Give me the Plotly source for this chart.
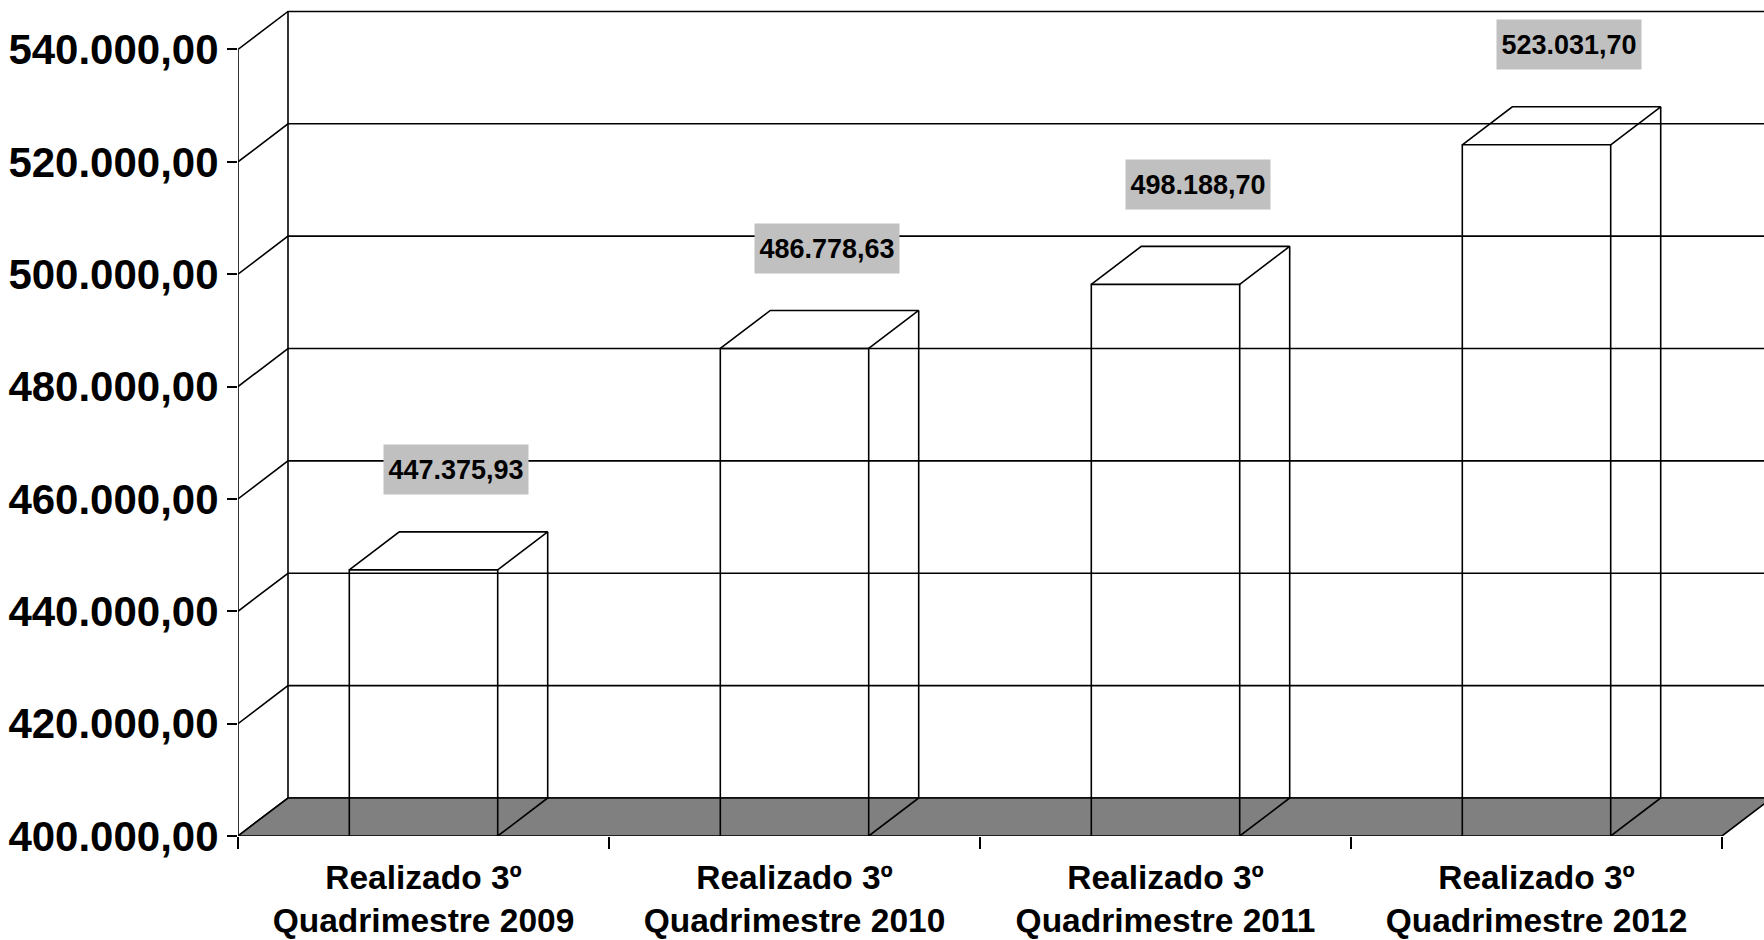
import plotly.graph_objects as go

# data
categories = [
    "Realizado 3º<br>Quadrimestre 2009",
    "Realizado 3º<br>Quadrimestre 2010",
    "Realizado 3º<br>Quadrimestre 2011",
    "Realizado 3º<br>Quadrimestre 2012",
]
values = [447375.93, 486778.63, 498188.70, 523031.70]
y_ticks = [400000, 420000, 440000, 460000, 480000, 500000, 520000, 540000]

# layout / 3d look
W, H = 1764, 940
M_L, M_B = 238, 104
PLOT_W, PLOT_H = W - M_L, H - M_B
CAT_PX = 371              # pixel width of one category on the front plane
Y_MIN, Y_MAX = 400000, 548800
BAR_W = 0.4
DEPTH_PX = (50, 38)       # oblique depth offset of the 3d box
FONT = "Liberation Sans, Arial, sans-serif"
LINE = dict(color="black", width=1.6)

sy = PLOT_H / (Y_MAX - Y_MIN)
ddx = DEPTH_PX[0] / CAT_PX
ddy = DEPTH_PX[1] / sy
n = len(values)
y_top = y_ticks[-1]


def fmt_br(v):
    return f"{v:,.2f}".replace(",", "X").replace(".", ",").replace("X", ".")


fig = go.Figure()

# walls: front axis, side wall diagonals, back wall gridlines
gx, gy = [0, 0, None, ddx, ddx, None], [Y_MIN, y_top, None, Y_MIN + ddy, y_top + ddy, None]
for v in y_ticks:
    gx += [0, ddx, n + ddx, None]
    gy += [v, v + ddy, v + ddy, None]
fig.add_trace(go.Scatter(x=gx, y=gy, mode="lines", line=LINE, hoverinfo="skip"))

# floor
fig.add_trace(go.Scatter(
    x=[0, n, n + ddx, ddx, 0],
    y=[Y_MIN, Y_MIN, Y_MIN + ddy, Y_MIN + ddy, Y_MIN],
    mode="lines", fill="toself", fillcolor="#808080", line=LINE, hoverinfo="skip"))

# bars (wireframe boxes)
bx, by = [], []
for i, v in enumerate(values):
    x0 = i + 0.5 - BAR_W / 2
    x1 = i + 0.5 + BAR_W / 2
    bx += [x0, x0, x1, x1, None]
    by += [Y_MIN, v, v, Y_MIN, None]
    bx += [x0, x0 + ddx, x1 + ddx, x1, None]
    by += [v, v + ddy, v + ddy, v, None]
    bx += [x1 + ddx, x1 + ddx, x1, None]
    by += [v + ddy, Y_MIN + ddy, Y_MIN, None]
fig.add_trace(go.Scatter(x=bx, y=by, mode="lines", line=LINE, hoverinfo="skip"))

# value labels
for i, v in enumerate(values):
    fig.add_annotation(
        x=i + 0.5 + ddx * 0.65, y=v, yshift=100, text=fmt_br(v), showarrow=False,
        bgcolor="#C0C0C0", borderpad=2, width=140, height=45,
        font=dict(family=FONT, size=27, color="black", weight="bold"))

fig.update_layout(
    width=W, height=H, showlegend=False,
    margin=dict(l=M_L, r=0, t=0, b=M_B),
    paper_bgcolor="white", plot_bgcolor="white",
    separators=",.",
    font=dict(family=FONT, color="black"),
)
fig.update_xaxes(
    range=[0, PLOT_W / CAT_PX], showgrid=False, zeroline=False, showline=False,
    tickmode="array", tickvals=[i + 0.5 for i in range(n)], ticktext=categories,
    ticks="", tickfont=dict(size=33.5, weight="bold"), ticklabelstandoff=18,
    minor=dict(tickmode="array", tickvals=list(range(n + 1)), ticks="outside",
               ticklen=12, tickwidth=1.6, tickcolor="black", showgrid=False),
)
fig.update_yaxes(
    range=[Y_MIN, Y_MAX], showgrid=False, zeroline=False, showline=False,
    tickmode="array", tickvals=y_ticks, tickformat=",.2f",
    ticks="outside", ticklen=10, tickwidth=1.6, tickcolor="black",
    tickfont=dict(size=42, weight="bold"),
)

fig.write_html("out.html", config={"displayModeBar": False},
               post_script="document.body.style.margin='0';")
